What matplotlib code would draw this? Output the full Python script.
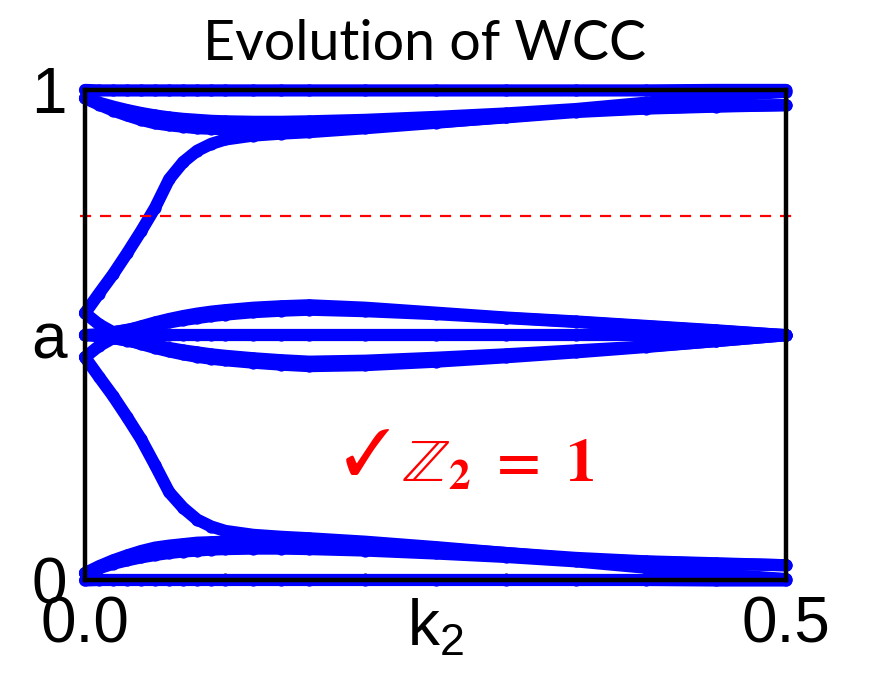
import numpy as np
import matplotlib.pyplot as plt

# k2 sampling along the path
k2 = [0.00, 0.01, 0.02, 0.03, 0.04, 0.05, 0.06, 0.07, 0.08, 0.09, 0.10,
      0.12, 0.14, 0.16, 0.20, 0.25, 0.30, 0.35, 0.40, 0.45, 0.50]

# Wannier charge centres, one list per band
wcc_top0 = [1.000, 0.999, 0.999, 0.999, 0.999, 0.999, 0.999, 0.999, 0.999, 0.999, 0.999,
            0.999, 0.999, 0.999, 0.999, 0.999, 0.999, 0.999, 0.999, 1.000, 1.000]
wcc_top_a = [0.983, 0.974, 0.966, 0.959, 0.953, 0.948, 0.944, 0.941, 0.939, 0.937, 0.936,
             0.935, 0.935, 0.936, 0.939, 0.945, 0.952, 0.961, 0.974, 0.987, 0.996]
wcc_top_b = [0.983, 0.970, 0.958, 0.948, 0.939, 0.932, 0.928, 0.925, 0.922, 0.921, 0.920,
             0.919, 0.920, 0.921, 0.926, 0.934, 0.944, 0.955, 0.962, 0.966, 0.969]
wcc_up = [0.545, 0.585, 0.624, 0.667, 0.712, 0.760, 0.818, 0.853, 0.876, 0.890, 0.899,
          0.907, 0.911, 0.914, 0.922, 0.933, 0.945, 0.957, 0.963, 0.967, 0.969]

wcc_mid_a = [0.545, 0.522, 0.506, 0.510, 0.518, 0.526, 0.533, 0.539, 0.544, 0.548, 0.551,
             0.556, 0.559, 0.561, 0.556, 0.546, 0.536, 0.528, 0.519, 0.510, 0.500]
wcc_mid_b = [0.500, 0.502, 0.506, 0.511, 0.516, 0.521, 0.526, 0.531, 0.535, 0.539, 0.542,
             0.547, 0.550, 0.552, 0.549, 0.543, 0.535, 0.527, 0.518, 0.509, 0.500]
wcc_mid_0 = [0.500, 0.500, 0.500, 0.500, 0.500, 0.500, 0.500, 0.500, 0.500, 0.500, 0.500,
             0.500, 0.500, 0.500, 0.500, 0.500, 0.500, 0.500, 0.500, 0.500, 0.500]
wcc_mid_c = [0.500, 0.498, 0.494, 0.489, 0.484, 0.479, 0.474, 0.469, 0.465, 0.461, 0.458,
             0.453, 0.449, 0.446, 0.448, 0.454, 0.461, 0.469, 0.477, 0.488, 0.500]
wcc_mid_d = [0.455, 0.478, 0.494, 0.490, 0.482, 0.474, 0.467, 0.461, 0.456, 0.452, 0.449,
             0.444, 0.440, 0.437, 0.439, 0.446, 0.455, 0.465, 0.476, 0.488, 0.500]

wcc_down = [0.455, 0.415, 0.376, 0.333, 0.288, 0.235, 0.180, 0.148, 0.124, 0.110, 0.101,
            0.093, 0.089, 0.086, 0.079, 0.068, 0.056, 0.044, 0.038, 0.034, 0.031]
wcc_bot_b = [0.015, 0.029, 0.041, 0.051, 0.060, 0.067, 0.071, 0.074, 0.077, 0.078, 0.079,
             0.080, 0.080, 0.079, 0.074, 0.066, 0.056, 0.046, 0.039, 0.035, 0.031]
wcc_bot_a = [0.015, 0.025, 0.034, 0.041, 0.047, 0.052, 0.056, 0.059, 0.061, 0.063, 0.064,
             0.065, 0.065, 0.064, 0.061, 0.055, 0.048, 0.039, 0.026, 0.013, 0.003]
wcc_bot0 = [0.000, 0.001, 0.001, 0.001, 0.001, 0.001, 0.001, 0.001, 0.001, 0.001, 0.001,
            0.001, 0.001, 0.001, 0.001, 0.001, 0.001, 0.001, 0.001, 0.000, 0.000]

bands = [wcc_top0, wcc_top_a, wcc_top_b, wcc_up,
         wcc_mid_a, wcc_mid_b, wcc_mid_0, wcc_mid_c, wcc_mid_d,
         wcc_down, wcc_bot_b, wcc_bot_a, wcc_bot0]

ref_line = 0.743
ytick_pos = [0, 0.5, 1]
ytick_txt = ['0', 'a', '1']
xtick_pos = [0.0, 0.5]
xtick_txt = ['0.0', '0.5']
minor_pos = [0.1, 0.2, 0.3, 0.4]

plt.rcParams['font.family'] = ['Liberation Sans', 'DejaVu Sans']

fig = plt.figure(figsize=(8.72, 6.85), dpi=100)
ax = fig.add_axes([0.0975, 0.1526, 0.8039, 0.7161])

for w in bands:
    ax.plot(k2, w, color='#0000ff', lw=8.8, marker='o', ms=8.8, mew=0,
            solid_capstyle='round', solid_joinstyle='round', clip_on=False, zorder=2)

ax.axhline(ref_line, xmin=-0.007, xmax=1.01, color='red', lw=1.6, dashes=(5, 4),
           clip_on=False, zorder=3)

ax.set_xlim(0, 0.5)
ax.set_ylim(0, 1)
for s in ax.spines.values():
    s.set_linewidth(3.2)
    s.set_zorder(4)

ax.set_xticks(xtick_pos)
ax.set_xticklabels(xtick_txt, fontsize=46)
ax.set_yticks(ytick_pos)
ax.set_yticklabels(ytick_txt, fontsize=46)
ax.set_xticks(minor_pos, minor=True)
ax.tick_params(which='major', length=0)
ax.tick_params(axis='x', which='major', pad=11)
ax.tick_params(axis='y', which='major', pad=13)
ax.tick_params(axis='x', which='minor', direction='in', length=5, width=1.8, top=False)

ax.text(0.5, -0.133, 'k$_\\mathregular{2}$', transform=ax.transAxes, fontsize=46,
        ha='center', va='baseline')

fig.text(0.487, 1 - 60 / 685, 'Evolution of WCC', fontsize=40, family='Lato',
         ha='center', va='baseline')

ax.text(0.184, 0.218, '$\\checkmark$', color='red', fontsize=46,
        math_fontfamily='stix', ha='left', va='baseline')
ax.text(0.226, 0.201, '$\\mathbb{Z}_{\\mathbf{2}}\\ \\mathbf{=}\\ \\mathbf{1}$', color='red',
        fontsize=44, math_fontfamily='stix', ha='left', va='baseline')

fig.savefig('out.png', dpi=100)
